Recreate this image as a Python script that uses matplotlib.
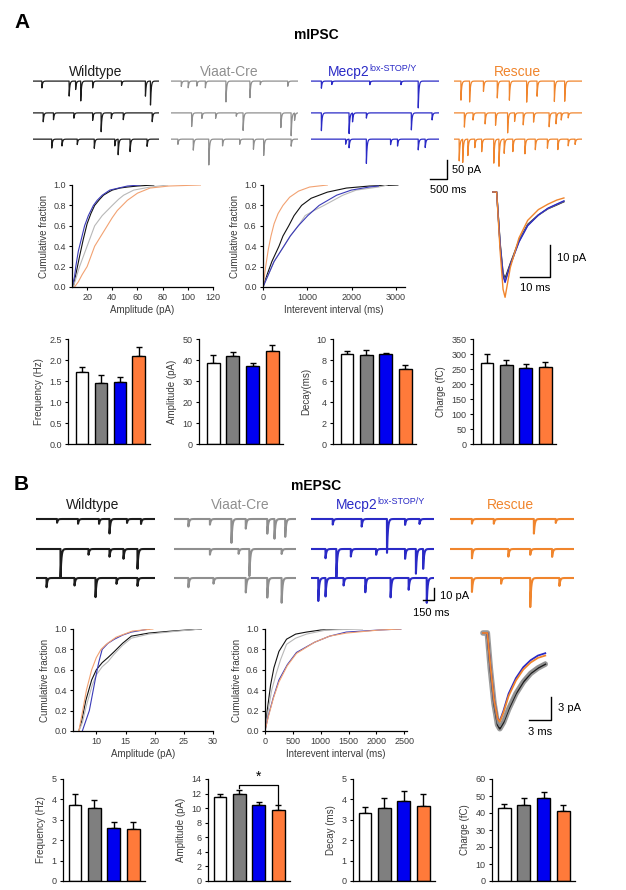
import numpy as np
import matplotlib.pyplot as plt

plt.rcParams['font.family'] = ['Liberation Sans', 'DejaVu Sans']

W, H = 626, 890

trace_colors = ['#1c1c1c', '#8f8f8f', '#2a2ac6', '#f0852d']
cum_colors = ['#111111', '#b8b8b8', '#3a3ab8', '#f2a272']
bar_colors = ['white', '#7f7f7f', '#0000f0', '#ff7a3a']

# ---- example traces (event time s, amplitude pA), 3 rows each ----
ipsc_wt = [[(0.26, 20), (1.06, 45), (1.25, 25), (1.4, 60), (1.75, 20), (2.6, 12), (3.3, 45), (3.45, 65)],
           [(0.3, 25), (0.6, 20), (1.2, 15), (1.75, 22), (2.0, 55), (2.3, 15), (2.65, 20), (3.5, 25)],
           [(0.55, 25), (0.85, 20), (1.3, 15), (1.8, 25), (2.4, 20), (2.5, 45), (2.85, 35), (3.35, 20)]]
ipsc_viaat = [[(0.3, 15), (0.5, 20), (0.75, 15), (1.0, 20), (1.6, 60), (2.3, 45), (2.6, 10), (3.4, 15)],
              [(0.6, 40), (0.9, 15), (1.3, 15), (1.9, 10), (2.1, 50), (3.2, 40), (3.5, 65), (3.6, 20)],
              [(0.2, 15), (0.65, 30), (1.1, 75), (1.5, 20), (2.0, 15), (2.4, 30), (2.7, 45), (3.5, 20)]]
ipsc_mecp2 = [[(0.3, 20), (0.6, 10), (1.7, 10), (2.6, 10), (3.1, 75)],
              [(0.3, 50), (1.1, 60), (1.2, 25), (1.6, 15), (2.9, 50), (3.5, 20)],
              [(1.0, 15), (1.1, 25), (1.6, 70), (2.3, 15), (2.5, 20), (3.1, 30), (3.3, 25)]]
ipsc_rescue = [[(0.2, 55), (0.45, 60), (0.85, 30), (1.25, 50), (1.6, 55), (2.1, 60), (2.4, 45), (2.9, 60), (3.2, 55)],
               [(0.3, 40), (0.55, 20), (0.9, 30), (1.2, 35), (1.55, 55), (1.75, 25), (2.0, 35), (2.3, 25),
                (2.75, 40), (2.95, 30), (3.1, 20), (3.3, 15)],
               [(0.15, 60), (0.25, 70), (0.4, 45), (0.6, 25), (0.8, 35), (1.15, 65), (1.3, 75), (1.45, 40),
                (1.7, 35), (2.05, 40), (2.35, 30), (2.7, 25), (3.0, 30), (3.3, 20), (3.5, 15)]]

epsc_wt = [[(0.3, 4), (0.6, 5), (0.9, 5), (1.05, 15), (1.3, 4), (1.5, 5)],
           [(0.35, 30), (0.75, 6), (1.05, 8), (1.25, 10), (1.45, 20)],
           [(0.15, 10), (0.55, 8), (0.85, 20), (1.15, 6), (1.45, 8)]]
epsc_viaat = [[(0.2, 8), (0.5, 6), (0.8, 25), (1.0, 10), (1.3, 15), (1.4, 20), (1.55, 18)],
              [(0.5, 6), (0.9, 5), (1.05, 28), (1.5, 5)],
              [(0.2, 10), (0.55, 6), (1.0, 15), (1.3, 20), (1.5, 25)]]
epsc_mecp2 = [[(0.3, 6), (0.7, 8), (1.05, 35), (1.3, 6), (1.5, 5)],
              [(0.2, 10), (0.35, 30), (0.55, 8), (0.9, 6), (1.3, 10), (1.45, 25), (1.55, 20)],
              [(0.1, 25), (0.2, 20), (0.45, 8), (0.75, 15), (1.1, 20), (1.35, 12), (1.6, 25)]]
epsc_rescue = [[(0.3, 5), (0.6, 5), (1.15, 15), (1.45, 4)],
               [(0.3, 10), (0.8, 8), (1.1, 6), (1.4, 8)],
               [(0.3, 15), (0.7, 6), (1.1, 30), (1.5, 8)]]

# ---- cumulative distributions (x, fraction) for WT, Viaat-Cre, Mecp2, Rescue ----
ipsc_amp_cum = [([9, 11, 14, 17, 20, 23, 26, 30, 33, 37, 40, 46, 52, 60, 73],
                 [0, .12, .3, .47, .62, .72, .8, .86, .9, .93, .95, .97, .98, .99, 1]),
                ([9, 11, 14, 17, 20, 23, 26, 32, 36, 40, 45, 49, 57, 70, 84],
                 [0, .08, .2, .3, .4, .5, .6, .7, .75, .8, .86, .9, .95, .98, 1]),
                ([8, 10, 11, 13, 16, 18, 21, 25, 28, 32, 38, 45, 52, 62],
                 [0, .1, .2, .35, .5, .6, .7, .8, .85, .9, .95, .97, .99, 1]),
                ([10, 13, 16, 20, 23, 26, 31, 36, 40, 44, 48, 52, 60, 70, 85, 110],
                 [0, .05, .12, .2, .3, .4, .5, .6, .68, .75, .8, .85, .92, .97, .99, 1])]
ipsc_iei_cum = [([0, 100, 200, 360, 450, 580, 700, 870, 1085, 1450, 1880, 2400, 3040],
                 [0, .13, .25, .4, .5, .6, .7, .8, .87, .93, .97, .99, 1]),
                ([0, 100, 250, 470, 615, 795, 950, 1150, 1375, 1800, 2100, 2600, 2800],
                 [0, .1, .25, .4, .5, .6, .7, .75, .8, .9, .95, .98, 1]),
                ([0, 100, 250, 470, 615, 795, 1010, 1265, 1660, 1990, 2390, 2600],
                 [0, .1, .25, .4, .5, .6, .7, .8, .9, .95, .98, .99]),
                ([0, 60, 120, 180, 250, 340, 450, 600, 800, 1050, 1450],
                 [0, .2, .37, .5, .62, .72, .8, .88, .94, .98, 1])]
epsc_amp_cum = [([7, 7.5, 8.2, 9.2, 10, 11, 12, 13.1, 14.5, 16, 19, 23, 28],
                 [0, .1, .3, .5, .6, .67, .72, .78, .86, .93, .96, .98, 1]),
                ([7, 7.6, 8.3, 9.3, 10, 11, 12, 13, 14.5, 16, 19, 24, 28],
                 [0, .08, .25, .45, .55, .63, .68, .75, .84, .91, .95, .98, 1]),
                ([7.6, 8.2, 8.8, 9.3, 9.8, 10.4, 11, 12, 13.1, 14.5, 16, 19.1],
                 [0, .1, .2, .35, .5, .67, .8, .86, .9, .94, .97, 1]),
                ([7, 7.5, 8.3, 9.2, 10, 10.8, 11.7, 13.4, 16.2, 19.7],
                 [0, .15, .4, .6, .72, .8, .85, .92, .98, 1])]
epsc_iei_cum = [([0, 40, 100, 160, 250, 387, 550, 745, 1000, 1400],
                 [0, .2, .45, .62, .78, .9, .95, .97, .99, 1]),
                ([0, 50, 120, 200, 280, 387, 550, 745, 1100, 1750],
                 [0, .18, .4, .56, .7, .85, .91, .95, .99, 1]),
                ([0, 60, 150, 250, 400, 565, 890, 1160, 1460, 2050, 2440],
                 [0, .15, .33, .5, .65, .77, .87, .93, .97, .99, 1]),
                ([0, 60, 150, 250, 400, 565, 890, 1160, 1460, 2050, 2440],
                 [0, .14, .32, .48, .64, .76, .87, .93, .96, .99, 1])]

# ---- averaged events (ms, pA) ----
ipsc_avg_t = [0, 1.3, 2.5, 3.5, 4.2, 6, 9, 12, 15.7, 19, 22, 24.5]
ipsc_avg = [[0, 0, -19, -30, -32, -26.5, -18, -12, -8.5, -6.2, -4.8, -3.6],
            [0, 0, -19.5, -30.5, -33, -27, -18.3, -12.3, -8.6, -6.1, -4.6, -3.4],
            [0, 0, -20, -31, -33.5, -27, -18.5, -12.5, -8.5, -6, -4.5, -3.3],
            [0, 0, -22, -36, -39, -28, -17, -10.5, -6.5, -4.5, -3, -2.2]]
epsc_avg_t = [0, 0.6, 1.0, 1.5, 2.0, 2.3, 2.8, 3.5, 4.5, 5.5, 6.5, 7.5, 8.5]
epsc_avg = [[0, 0, -4.5, -9, -11.8, -12.3, -11.5, -9.8, -7.8, -6.3, -5.2, -4.5, -4.0],
            [0, 0, -4.3, -8.8, -11.5, -12.0, -11.2, -9.5, -7.5, -6.0, -5.0, -4.3, -3.8],
            [0, 0, -4, -8.5, -11, -11.3, -10, -7.8, -5.8, -4.4, -3.5, -2.9, -2.6],
            [0, 0, -4, -8.5, -11, -11.4, -10.2, -8.1, -6.1, -4.7, -3.8, -3.2, -2.9]]

# ---- bar data: mean, sem ----
ipsc_freq, ipsc_freq_err = [1.72, 1.45, 1.47, 2.1], [0.11, 0.2, 0.13, 0.22]
ipsc_amp, ipsc_amp_err = [38.7, 42, 37.2, 44.5], [3.8, 1.8, 1.5, 2.8]
ipsc_decay, ipsc_decay_err = [8.55, 8.5, 8.55, 7.15], [0.3, 0.45, 0.15, 0.35]
ipsc_charge, ipsc_charge_err = [270, 265, 253, 258], [30, 15, 15, 17]
epsc_freq, epsc_freq_err = [3.75, 3.57, 2.6, 2.55], [0.5, 0.4, 0.27, 0.32]
epsc_amp, epsc_amp_err = [11.5, 11.9, 10.4, 9.7], [0.4, 0.6, 0.4, 0.7]
epsc_decay, epsc_decay_err = [3.35, 3.6, 3.92, 3.7], [0.3, 0.45, 0.48, 0.55]
epsc_charge, epsc_charge_err = [43, 45, 49, 41], [2.5, 4, 3.5, 4]

fig = plt.figure(figsize=(W / 100, H / 100), dpi=100)


def px_axes(left, top, right, bottom):
    return fig.add_axes([left / W, 1 - bottom / H, (right - left) / W, (bottom - top) / H])


def px_text(x, y, s, **kw):
    return fig.text(x / W, 1 - y / H, s, **kw)


def trace_xy(events, length, tau, n=1600):
    t = np.linspace(0, length, n)
    y = np.zeros_like(t)
    for t0, a in events:
        m = t >= t0
        y[m] -= a * np.exp(-(t[m] - t0) / tau)
    return t, y


def draw_traces(rows, left, right, top, bottom, color, length, tau, row_off, ylim, lw):
    ax = px_axes(left, top, right, bottom)
    for off, ev in zip(row_off, rows):
        t, y = trace_xy(ev, length, tau)
        ax.plot(t, y + off, color=color, lw=lw)
    ax.set_xlim(0, length)
    ax.set_ylim(*ylim)
    ax.axis('off')
    return ax


def style(ax):
    for s in ['top', 'right']:
        ax.spines[s].set_visible(False)
    for s in ['left', 'bottom']:
        ax.spines[s].set_linewidth(0.9)
    ax.tick_params(direction='out', length=2.5, width=0.8, labelsize=6.5,
                   labelcolor='#3c3c3c', pad=2)


def cum_plot(box, curves, xlim, xticks, xlabel):
    ax = px_axes(*box)
    for (x, y), c in zip(curves, cum_colors):
        ax.plot(x, y, color=c, lw=0.8)
    ax.set_xlim(*xlim)
    ax.set_ylim(0, 1.0)
    ax.set_xticks(xticks)
    ax.set_yticks([0, 0.2, 0.4, 0.6, 0.8, 1.0])
    ax.set_yticklabels(['0.0', '0.2', '0.4', '0.6', '0.8', '1.0'])
    ax.set_xlabel(xlabel, fontsize=7, color='#3c3c3c', labelpad=2)
    ax.set_ylabel('Cumulative fraction', fontsize=7, color='#3c3c3c', labelpad=3)
    style(ax)
    return ax


def bar_plot(box, means, errs, ylim, yticks, ylabel, xlim, fmt='{:g}'):
    ax = px_axes(*box)
    x = np.arange(4)
    ax.bar(x, means, width=0.66, color=bar_colors, edgecolor='black', lw=1.0, zorder=2)
    ax.errorbar(x, means, yerr=[np.zeros(4), errs], fmt='none', ecolor='black',
                elinewidth=1.0, capsize=2.5, capthick=1.0, zorder=1)
    ax.set_xlim(*xlim)
    ax.set_ylim(*ylim)
    ax.set_xticks([])
    ax.set_yticks(yticks)
    ax.set_yticklabels([fmt.format(v) for v in yticks])
    ax.set_ylabel(ylabel, fontsize=7, color='#3c3c3c', labelpad=4)
    style(ax)
    return ax


def group_labels(ax, y, xs, mecp2_left):
    px_text(xs[0], y, 'Wildtype', color=trace_colors[0], fontsize=10, ha='center', va='center')
    px_text(xs[1], y, 'Viaat-Cre', color=trace_colors[1], fontsize=10, ha='center', va='center')
    t = px_text(mecp2_left, y, 'Mecp2', color=trace_colors[2], fontsize=10, ha='left', va='center')
    ax.annotate('lox-STOP/Y', xy=(1.0, 0.45), xycoords=t, color=trace_colors[2],
                fontsize=6.5, ha='left', va='bottom', annotation_clip=False)
    px_text(xs[2], y, 'Rescue', color=trace_colors[3], fontsize=10, ha='center', va='center')


# ================= panel A =================
px_text(14, 23, 'A', fontsize=15, fontweight='bold', va='center')
px_text(316, 35, 'mIPSC', fontsize=10, fontweight='bold', ha='center', va='center')

a_rows = [0, -86, -157]
a_ylim = (-281, 30)
a_boxes = [(33, 159), (171, 298), (311, 439), (454, 582)]
for rows, (l, r), c in zip([ipsc_wt, ipsc_viaat, ipsc_mecp2, ipsc_rescue], a_boxes, trace_colors):
    axr = draw_traces(rows, l, r, 70, 185, c, 3.7, 0.02, a_rows, a_ylim, 0.9)
axr.plot([-0.7, -0.2, -0.2], [-265, -265, -213], color='black', lw=1.0, clip_on=False)
axr.text(-0.05, -240, '50 pA', fontsize=8, va='center', ha='left')
axr.text(-0.7, -295, '500 ms', fontsize=8, va='center', ha='left')
group_labels(axr, 72, [96, 229, 517], 328)

cum_plot((72, 185, 213, 287), ipsc_amp_cum, (8, 120), [20, 40, 60, 80, 100, 120], 'Amplitude (pA)')
cum_plot((263, 185, 405, 287), ipsc_iei_cum, (0, 3200), [0, 1000, 2000, 3000], 'Interevent interval (ms)')

axa = px_axes(490, 185, 590, 300)
for yv, c in zip(ipsc_avg, trace_colors):
    axa.plot(ipsc_avg_t, yv, color=c, lw=1.0)
axa.set_xlim(-1, 33.5)
axa.set_ylim(-40, 2.6)
axa.axis('off')
axa.plot([9.3, 19.7, 19.7], [-31.5, -31.5, -19.6], color='black', lw=1.0, clip_on=False)
axa.text(22.0, -24.5, '10 pA', fontsize=8, va='center', ha='left')
axa.text(14.5, -35.5, '10 ms', fontsize=8, va='center', ha='center')

bar_plot((68, 339, 150, 444), ipsc_freq, ipsc_freq_err, (0, 2.5), [0, 0.5, 1.0, 1.5, 2.0, 2.5],
         'Frequency (Hz)', (-0.75, 3.6), '{:.1f}')
bar_plot((199, 339, 283, 444), ipsc_amp, ipsc_amp_err, (0, 50), [0, 10, 20, 30, 40, 50],
         'Amplitude (pA)', (-0.72, 3.55))
bar_plot((333, 339, 416, 444), ipsc_decay, ipsc_decay_err, (0, 10), [0, 2, 4, 6, 8, 10],
         'Decay(ms)', (-0.72, 3.55))
bar_plot((473, 339, 556, 444), ipsc_charge, ipsc_charge_err, (0, 350), [0, 50, 100, 150, 200, 250, 300, 350],
         'Charge (fC)', (-0.72, 3.55))

# ================= panel B =================
px_text(14, 485, 'B', fontsize=15, fontweight='bold', va='center')
px_text(316, 486, 'mEPSC', fontsize=10, fontweight='bold', ha='center', va='center')

b_rows = [0, -30, -59]
b_ylim = (-93, 9)
b_boxes = [(36, 155), (174, 296), (311, 434), (450, 574)]
for rows, (l, r), c in zip([epsc_wt, epsc_viaat, epsc_mecp2, epsc_rescue], b_boxes, trace_colors):
    axr = draw_traces(rows, l, r, 510, 612, c, 1.7, 0.012, b_rows, b_ylim, 1.5)
axr.plot([-0.37, -0.22, -0.22], [-81, -81, -69], color='black', lw=1.0, clip_on=False)
axr.text(-0.14, -77, '10 pA', fontsize=8, va='center', ha='left')
axr.text(-0.51, -94, '150 ms', fontsize=8, va='center', ha='left')
group_labels(axr, 505, [93, 240, 510], 336)

cum_plot((73, 629, 213, 731), epsc_amp_cum, (6, 30), [10, 15, 20, 25, 30], 'Amplitude (pA)')
cum_plot((265, 629, 407, 731), epsc_iei_cum, (0, 2550), [0, 500, 1000, 1500, 2000, 2500], 'Interevent interval (ms)')

axb = px_axes(480, 628, 590, 740)
axb.plot(epsc_avg_t, epsc_avg[0], color='#9a9a9a', lw=4.0, solid_capstyle='round')
for yv, c in zip(epsc_avg, trace_colors):
    axb.plot(epsc_avg_t, yv, color=c, lw=1.3)
axb.set_xlim(-0.4, 14.6)
axb.set_ylim(-13.75, 0.64)
axb.axis('off')
axb.plot([6.28, 9.28, 9.28], [-11.2, -11.2, -8.2], color='black', lw=1.0, clip_on=False)
axb.text(10.2, -9.7, '3 pA', fontsize=8, va='center', ha='left')
axb.text(7.8, -12.7, '3 ms', fontsize=8, va='center', ha='center')

bar_plot((63, 779, 145, 881), epsc_freq, epsc_freq_err, (0, 5), [0, 1, 2, 3, 4, 5],
         'Frequency (Hz)', (-0.62, 3.6))
axamp = bar_plot((208, 779, 290, 881), epsc_amp, epsc_amp_err, (0, 14), [0, 2, 4, 6, 8, 10, 12, 14],
                 'Amplitude (pA)', (-0.62, 3.6))
axamp.plot([1, 1, 3, 3], [12.8, 13.2, 13.2, 10.6], color='black', lw=0.9, clip_on=False)
axamp.text(2, 13.3, '*', fontsize=10, ha='center', va='bottom')
bar_plot((353, 779, 435, 881), epsc_decay, epsc_decay_err, (0, 5), [0, 1, 2, 3, 4, 5],
         'Decay (ms)', (-0.62, 3.6))
bar_plot((492, 779, 575, 881), epsc_charge, epsc_charge_err, (0, 60), [0, 10, 20, 30, 40, 50, 60],
         'Charge (fC)', (-0.62, 3.6))

fig.savefig('out.png', dpi=100)
